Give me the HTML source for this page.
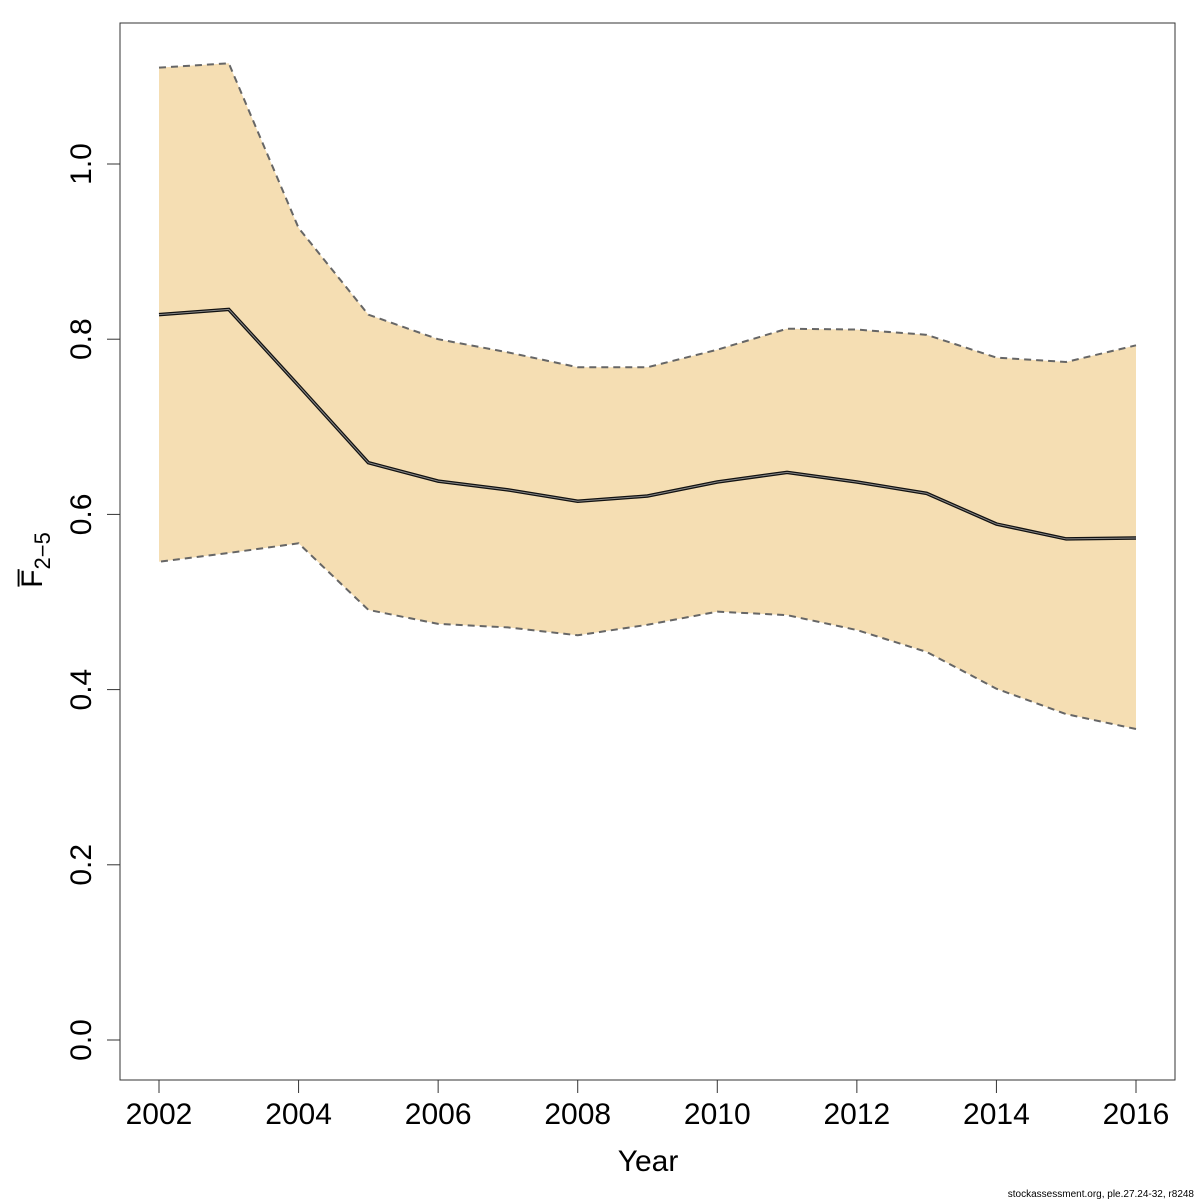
<!DOCTYPE html>
<html><head><meta charset="utf-8"><style>
body{margin:0;background:#fff}
svg{display:block;font-family:"Liberation Sans","DejaVu Sans",sans-serif}
</style></head><body>
<svg id="chart" width="1200" height="1200" viewBox="0 0 1200 1200" xmlns="http://www.w3.org/2000/svg">
<rect x="0" y="0" width="1200" height="1200" fill="#fff"/>
<g id="plot"></g>
<rect x="120" y="23" width="1055" height="1057" fill="none" stroke="#333" stroke-width="1"/>
<g id="axes"></g>
<text x="648" y="1171" font-size="30" text-anchor="middle">Year</text>
<text transform="translate(42,560) rotate(-90)" font-size="30" text-anchor="middle">F̅<tspan font-size="22" dy="8">2−5</tspan></text>
<text x="1194" y="1197" font-size="10" text-anchor="end">stockassessment.org, ple.27.24-32, r8248</text>
</svg>
<script>
const years=[2002,2003,2004,2005,2006,2007,2008,2009,2010,2011,2012,2013,2014,2015,2016];
const meanF=[0.828,0.834,0.747,0.659,0.638,0.628,0.615,0.621,0.637,0.648,0.637,0.624,0.589,0.572,0.573];
const upperF=[1.110,1.115,0.927,0.828,0.800,0.785,0.768,0.768,0.788,0.812,0.811,0.805,0.779,0.774,0.793];
const lowerF=[0.546,0.556,0.567,0.491,0.475,0.471,0.462,0.474,0.489,0.485,0.468,0.443,0.401,0.372,0.355];
const xTicks=[2002,2004,2006,2008,2010,2012,2014,2016];
const yTicks=[0.0,0.2,0.4,0.6,0.8,1.0];
const NS="http://www.w3.org/2000/svg";
const xs=v=>159+(v-2002)*(1136-159)/14;
const ys=v=>1040-v*876;
const plot=document.getElementById('plot'), axes=document.getElementById('axes');
function mk(tag,attrs,parent){const e=document.createElementNS(NS,tag);for(const k in attrs)e.setAttribute(k,attrs[k]);parent.appendChild(e);return e;}
const up=years.map((y,i)=>xs(y)+','+ys(upperF[i]));
const lo=years.map((y,i)=>xs(y)+','+ys(lowerF[i])).reverse();
const band=mk('polygon',{points:up.concat(lo).join(' '),fill:'#f5deb3',stroke:'none'},plot);


const ul=mk('polyline',{points:up.join(' '),fill:'none',stroke:'#666','stroke-width':2,'stroke-dasharray':'7,5'},plot);


const ll=mk('polyline',{points:lo.join(' '),fill:'none',stroke:'#666','stroke-width':2,'stroke-dasharray':'7,5'},plot);


const mp=years.map((y,i)=>xs(y)+','+ys(meanF[i])).join(' ');
const ml=mk('polyline',{points:mp,fill:'none',stroke:'#111','stroke-width':3.5},plot);


const ml2=mk('polyline',{points:mp,fill:'none',stroke:'#888','stroke-width':1},plot);


mk('line',{x1:xs(2002),x2:xs(2016),y1:1080,y2:1080,stroke:'#333'},axes);
xTicks.forEach(t=>{
  const l=mk('line',{x1:xs(t),x2:xs(t),y1:1080,y2:1093,stroke:'#333'},axes);
  
  
  const tx=mk('text',{x:xs(t),y:1124,'font-size':30,'text-anchor':'middle'},axes);
  tx.textContent=t;
  
  
});
mk('line',{x1:120,x2:120,y1:ys(0),y2:ys(1),stroke:'#333'},axes);
yTicks.forEach(t=>{
  const l=mk('line',{x1:107,x2:120,y1:ys(t),y2:ys(t),stroke:'#333'},axes);
  
  
  const tx=mk('text',{transform:`translate(91,${ys(t)}) rotate(-90)`,'font-size':30,'text-anchor':'middle'},axes);
  tx.textContent=t.toFixed(1);
  
  
});
</script>
</body></html>
